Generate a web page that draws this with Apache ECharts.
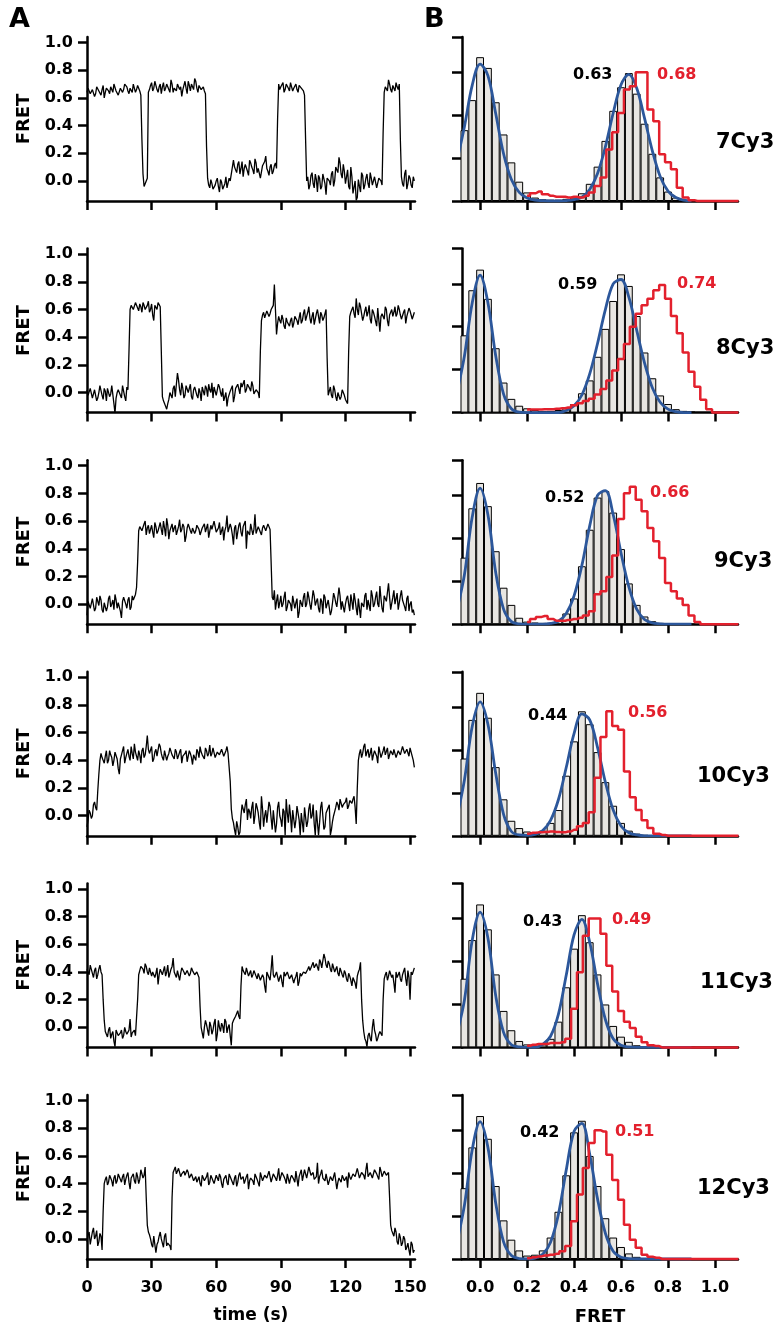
<!DOCTYPE html>
<html>
<head>
<meta charset="utf-8">
<script src="https://cdn.jsdelivr.net/npm/echarts@6/dist/echarts.min.js"></script>
<style>html,body{margin:0;padding:0;background:#fff}#c{width:780px;height:1331px}</style>
</head>
<body>
<div id="c"></div>
<script>
// ---------- DATA ----------
const rowNames = ['7Cy3', '8Cy3', '9Cy3', '10Cy3', '11Cy3', '12Cy3'];
const peakLabels = ['0.63', '0.59', '0.52', '0.44', '0.43', '0.42'];
const shiftLabels = ['0.68', '0.74', '0.66', '0.56', '0.49', '0.51'];
const timeTicks = [0, 30, 60, 90, 120, 150];
const fretTicksTrace = [0, 0.2, 0.4, 0.6, 0.8, 1.0];
const fretTicksHist = [0, 0.2, 0.4, 0.6, 0.8, 1.0];

// FRET traces: values at whole seconds (t = 0..152 s) ...
const trace7 = [0.64,0.66,0.62,0.65,0.63,0.67,0.64,0.66,0.6,0.67,0.65,0.68,0.64,0.69,0.66,0.63,0.68,0.66,0.71,0.65,0.67,0.64,0.69,0.66,0.67,0.62,
0.05,-0.03,0.02,
0.66,0.71,0.67,0.69,0.64,0.7,0.68,0.65,0.7,0.66,0.73,0.64,0.68,0.7,0.66,0.61,0.69,0.67,0.72,0.65,0.68,0.74,0.67,0.69,0.66,0.68,0.63,
0.02,-0.05,-0.02,-0.07,0.0,-0.04,0.01,-0.06,-0.02,-0.05,0.02,-0.01,
0.15,0.08,0.12,0.05,0.14,0.09,0.11,0.04,0.13,0.08,0.16,0.06,0.1,0.03,0.12,0.18,0.07,0.1,0.05,0.11,0.09,
0.7,0.68,0.71,0.66,0.69,0.65,0.68,0.67,0.7,0.64,0.68,0.66,0.62,
0.0,-0.06,0.04,-0.02,0.05,-0.08,0.02,-0.04,0.06,-0.1,0.03,-0.03,0.07,0.0,0.09,0.17,0.05,0.12,-0.02,0.08,-0.06,0.03,-0.1,-0.14,0.01,-0.08,0.04,-0.03,0.05,-0.05,0.02,-0.02,0.04,-0.04,0.01,-0.03,
0.64,0.67,0.73,0.66,0.69,0.65,0.68,0.7,
0.03,-0.04,0.08,-0.02,0.02,-0.05,0.0];
const trace8 = [0.02,-0.03,0.04,-0.05,0.01,-0.04,0.05,-0.02,0.03,-0.06,0.02,-0.01,0.04,-0.15,0.0,0.03,-0.04,0.06,-0.06,0.02,
0.6,0.64,0.61,0.63,0.59,0.62,0.65,0.6,0.63,0.58,0.64,0.52,0.62,0.65,0.62,
-0.03,-0.08,-0.12,-0.05,-0.02,0.03,-0.03,0.14,0.02,0.07,-0.04,0.05,0.0,0.06,-0.05,0.04,-0.02,0.03,-0.06,0.01,0.05,-0.03,0.02,0.07,0.04,-0.02,0.06,0.0,0.03,-0.05,-0.1,-0.03,0.02,-0.07,0.03,0.06,-0.01,0.04,0.09,0.02,0.07,0.01,0.05,-0.02,0.03,-0.04,
0.52,0.58,0.55,0.6,0.57,0.61,0.78,
0.42,0.55,0.5,0.53,0.46,0.51,0.48,0.54,0.5,0.56,0.49,0.58,0.52,0.6,0.55,0.62,0.5,0.58,0.53,0.6,0.5,0.56,0.54,0.6,
-0.02,0.04,-0.04,0.02,-0.06,0.01,-0.03,0.03,-0.05,-0.08,
0.55,0.6,0.57,0.68,0.56,0.62,0.52,0.59,0.55,0.63,0.5,0.58,0.56,0.61,0.44,0.57,0.53,0.6,0.48,0.58,0.55,0.62,0.57,0.6,0.53,0.58,0.5,0.56,0.59,0.53,0.58];
const trace9 = [-0.08,0.03,-0.02,0.05,-0.03,0.02,0.06,-0.04,0.01,-0.05,0.04,-0.02,0.03,0.07,-0.03,0.02,-0.1,0.05,0.0,0.03,-0.04,0.06,0.02,0.12,
0.53,0.57,0.52,0.6,0.55,0.51,0.57,0.48,0.56,0.53,0.59,0.5,0.55,0.62,0.47,0.54,0.52,0.57,0.5,0.61,0.54,0.56,0.49,0.58,0.53,0.55,0.51,0.57,0.54,0.5,0.56,0.52,0.58,0.47,0.54,0.6,0.52,0.55,0.5,0.56,0.53,0.64,0.51,0.55,0.43,0.57,0.52,0.59,0.49,0.55,0.4,0.53,0.58,0.5,0.65,0.52,0.56,0.5,0.57,0.53,0.58,0.54,
0.05,0.1,0.02,-0.03,0.06,0.0,0.09,-0.02,0.04,-0.05,0.07,0.01,-0.1,0.03,-0.02,0.08,0.0,0.05,-0.04,0.1,-0.01,0.04,-0.06,0.02,0.07,-0.03,0.03,-0.08,0.01,0.05,-0.02,0.12,-0.04,0.03,0.0,0.06,-0.05,0.02,0.08,-0.03,0.04,-0.1,0.02,0.06,-0.04,0.03,0.1,-0.02,0.05,0.0,0.13,-0.03,0.06,0.02,0.15,-0.04,0.05,0.0,0.08,-0.03,0.1,0.02,-0.05,0.06,0.0,-0.06,-0.08];
const trace10 = [-0.08,0.04,-0.02,0.08,0.06,0.18,
0.4,
0.42,0.38,0.47,0.4,0.44,0.36,0.46,0.41,0.3,0.44,0.5,0.42,0.48,0.4,0.45,0.52,0.43,0.47,0.38,0.49,0.44,0.58,0.45,0.5,0.41,0.48,0.44,0.5,0.42,0.47,0.4,0.45,0.5,0.43,0.48,0.41,0.46,0.38,0.44,0.47,0.4,0.45,0.37,0.43,0.48,0.42,0.46,0.44,0.49,0.43,0.51,0.45,0.48,0.42,0.47,0.44,0.49,0.45,0.5,0.46,
0.05,-0.05,-0.14,-0.08,-0.12,0.08,0.02,0.12,0.05,-0.02,0.1,0.0,0.06,-0.05,0.14,-0.08,0.04,-0.04,0.07,-0.1,0.03,-0.06,0.1,-0.03,0.05,-0.14,0.02,0.08,-0.12,0.04,-0.03,0.07,-0.14,0.01,0.06,-0.08,0.05,-0.02,0.08,-0.14,0.03,-0.05,0.1,-0.1,0.02,0.06,-0.14,-0.04,0.03,0.1,0.04,0.12,0.08,0.1,0.05,0.11,0.09,0.14,-0.06,
0.4,0.48,0.45,0.52,0.46,0.42,0.49,0.44,0.48,0.38,0.46,0.43,0.5,0.45,0.41,0.47,0.44,0.49,0.43,0.48,0.45,0.5,0.44,0.47,0.49,0.45,0.35];
const trace11 = [0.42,0.38,0.44,0.36,0.43,0.38,0.45,0.38,
0.05,-0.05,-0.02,-0.08,-0.03,-0.14,-0.04,-0.07,-0.02,-0.06,-0.03,-0.05,0.06,-0.04,-0.02,-0.05,
0.38,0.44,0.42,0.46,0.4,0.43,0.37,0.41,0.39,0.31,0.42,0.38,0.44,0.4,0.36,0.42,0.5,0.38,0.41,0.34,0.43,0.4,0.37,0.42,0.39,0.41,0.38,0.4,0.36,
0.0,-0.08,0.05,-0.02,0.04,-0.05,0.03,-0.1,0.05,-0.03,0.01,0.06,-0.04,0.02,-0.13,0.05,0.08,0.12,0.06,
0.44,0.4,0.43,0.37,0.41,0.38,0.4,0.35,0.38,0.33,0.36,0.25,0.39,0.34,0.52,0.36,0.4,0.33,0.38,0.29,0.37,0.4,0.35,0.38,0.32,0.37,0.3,0.39,0.36,0.41,0.38,0.44,0.4,0.47,0.42,0.45,0.49,0.43,0.53,0.45,0.48,0.42,0.46,0.4,0.44,0.37,0.42,0.36,0.39,0.33,0.37,0.3,0.35,0.28,0.4,0.47,
0.05,-0.08,-0.14,-0.04,-0.1,0.06,-0.05,-0.08,-0.03,-0.06,
0.35,0.4,0.37,0.42,0.38,0.25,0.36,0.4,0.33,0.39,0.35,0.41,0.2,0.38,0.43];
const trace12 = [-0.02,0.05,-0.03,0.08,0.02,-0.05,0.04,-0.08,
0.4,0.45,0.41,0.44,0.38,0.46,0.42,0.45,0.41,0.47,0.43,0.48,0.36,0.45,0.42,0.48,0.4,0.5,0.44,0.52,
0.1,0.03,-0.04,0.02,-0.1,-0.02,0.05,-0.03,0.02,-0.05,-0.02,-0.08,
0.48,0.52,0.46,0.5,0.47,0.49,0.45,0.48,0.44,0.46,0.43,0.41,0.45,0.38,0.44,0.42,0.48,0.41,0.44,0.4,0.46,0.42,0.45,0.37,0.44,0.41,0.47,0.43,0.39,0.46,0.41,0.48,0.44,0.4,0.45,0.36,0.44,0.42,0.47,0.43,0.38,0.45,0.41,0.46,0.43,0.5,0.44,0.47,0.42,0.51,0.45,0.49,0.43,0.47,0.4,0.46,0.43,0.49,0.38,0.45,0.42,0.5,0.44,0.52,0.46,0.48,0.42,0.55,0.45,0.5,0.43,0.47,0.39,0.45,0.42,0.48,0.36,0.44,0.41,0.46,0.43,0.37,0.45,0.42,0.47,0.44,0.5,0.45,0.48,0.43,0.55,0.46,0.49,0.44,0.5,0.47,0.52,0.45,0.49,0.46,0.48,
0.1,0.05,0.08,-0.02,0.04,-0.05,0.02,-0.08,-0.03,-0.12,-0.04,-0.08];

// ... and at half seconds (t = 0.5..151.5 s)
const trace7h = [0.67,0.63,0.66,0.61,0.68,0.65,0.62,0.69,0.64,0.66,0.63,0.67,0.7,0.65,0.62,0.67,0.64,0.7,0.68,0.63,0.66,0.7,0.64,0.69,0.65,
0.3,-0.04,0.0,0.64,
0.69,0.65,0.72,0.66,0.68,0.63,0.71,0.67,0.69,0.64,0.7,0.67,0.65,0.71,0.68,0.66,0.72,0.63,0.69,0.7,0.66,0.72,0.64,0.7,0.67,0.65,
0.25,-0.03,0.01,-0.06,-0.03,0.02,-0.08,-0.01,-0.04,0.03,-0.06,0.0,
0.1,0.1,0.06,0.14,0.09,0.03,0.12,0.07,0.15,0.1,0.05,0.13,0.09,0.02,0.11,0.14,0.09,0.04,0.12,0.07,0.13,
0.45,0.66,0.69,0.64,0.7,0.67,0.71,0.65,0.68,0.66,0.69,0.67,0.65,
0.3,0.03,-0.03,0.06,-0.05,0.01,0.04,-0.06,0.05,-0.02,0.02,0.0,0.05,-0.04,0.1,0.06,0.13,0.02,0.07,0.03,-0.04,0.1,-0.09,0.0,-0.12,-0.04,0.06,-0.06,0.02,-0.02,0.06,-0.03,0.03,-0.05,0.02,0.0,
0.35,0.68,0.65,0.7,0.64,0.67,0.71,0.66,
0.3,-0.02,0.05,-0.06,0.04,-0.03,0.03];
const trace8h = [-0.02,0.03,-0.04,0.02,-0.06,0.0,0.04,-0.05,0.01,0.03,-0.03,0.05,-0.08,-0.04,0.02,-0.02,0.05,-0.03,0.04,
0.3,0.63,0.6,0.65,0.61,0.64,0.58,0.63,0.61,0.66,0.6,0.56,0.63,0.6,0.64,
0.3,-0.06,-0.1,-0.08,0.0,-0.04,0.05,0.06,0.09,-0.02,0.03,-0.02,0.04,0.01,-0.03,0.02,0.05,-0.04,0.0,0.04,-0.02,0.03,0.06,0.0,-0.04,0.05,0.02,0.04,-0.03,-0.06,0.0,-0.04,0.01,0.05,-0.03,0.02,0.05,0.07,0.04,0.0,0.06,0.03,0.08,-0.01,0.02,0.0,
0.3,0.56,0.54,0.59,0.55,0.6,0.63,
0.6,0.5,0.52,0.56,0.48,0.54,0.5,0.52,0.47,0.55,0.52,0.54,0.5,0.57,0.52,0.58,0.54,0.55,0.49,0.57,0.55,0.58,0.52,0.57,
0.25,0.01,-0.02,0.05,-0.03,0.0,-0.05,0.02,-0.02,-0.06,
0.3,0.58,0.62,0.54,0.6,0.65,0.57,0.55,0.62,0.58,0.53,0.6,0.55,0.48,0.6,0.55,0.58,0.62,0.52,0.56,0.6,0.58,0.55,0.63,0.56,0.52,0.6,0.55,0.61,0.56,0.54];
const trace9h = [0.02,-0.03,0.04,-0.05,0.05,-0.01,0.03,-0.06,0.02,-0.02,0.06,0.0,-0.04,0.03,0.01,-0.05,0.02,0.04,-0.03,0.05,-0.02,0.03,0.07,
0.3,
0.56,0.53,0.58,0.5,0.57,0.54,0.52,0.59,0.51,0.56,0.54,0.6,0.49,0.57,0.53,0.58,0.55,0.5,0.56,0.52,0.58,0.45,0.55,0.59,0.51,0.56,0.53,0.57,0.5,0.55,0.58,0.53,0.48,0.57,0.54,0.56,0.51,0.59,0.53,0.46,0.56,0.52,0.58,0.5,0.55,0.47,0.57,0.52,0.56,0.6,0.53,0.5,0.58,0.54,0.51,0.56,0.52,0.55,0.57,0.52,0.56,
0.3,
0.03,-0.04,0.07,0.01,-0.02,0.05,-0.05,0.03,0.0,0.06,-0.03,0.04,-0.06,0.02,0.05,-0.02,0.09,0.0,-0.04,0.06,0.02,-0.03,0.04,-0.07,0.05,0.0,0.03,-0.05,0.08,0.01,-0.03,0.06,0.02,-0.06,0.04,0.0,0.07,-0.04,0.03,-0.08,0.05,0.01,-0.02,0.08,0.03,-0.05,0.06,0.0,0.09,-0.02,0.04,-0.06,0.07,0.02,0.05,-0.03,0.1,0.01,-0.04,0.06,0.03,-0.02,0.04,-0.05,0.02,-0.04];
const trace10h = [-0.03,0.02,0.0,0.1,0.04,
0.3,
0.45,0.4,0.43,0.38,0.47,0.42,0.4,0.45,0.34,0.41,0.47,0.38,0.45,0.43,0.5,0.41,0.46,0.4,0.44,0.47,0.42,0.5,0.48,0.44,0.39,0.46,0.43,0.52,0.45,0.4,0.47,0.43,0.49,0.44,0.41,0.46,0.4,0.48,0.43,0.45,0.39,0.47,0.42,0.44,0.4,0.46,0.5,0.44,0.41,0.47,0.45,0.43,0.49,0.42,0.46,0.44,0.48,0.43,0.47,0.45,
0.25,
-0.02,-0.1,-0.04,-0.14,0.0,0.05,0.08,-0.03,0.03,0.06,-0.06,0.09,0.02,-0.1,0.05,0.0,-0.05,0.1,-0.02,0.04,-0.12,0.06,0.0,-0.08,0.03,0.12,-0.05,0.0,0.04,-0.09,0.07,-0.03,0.02,-0.12,0.05,-0.04,0.09,0.0,-0.06,0.04,-0.14,0.06,0.0,-0.08,0.04,0.08,-0.1,0.0,0.06,0.08,0.12,0.06,0.09,0.13,0.07,0.1,0.12,0.06,
0.2,
0.45,0.42,0.5,0.43,0.48,0.45,0.4,0.47,0.43,0.5,0.42,0.47,0.44,0.49,0.41,0.46,0.48,0.42,0.47,0.44,0.5,0.45,0.48,0.43,0.46,0.4];
const trace11h = [0.4,0.45,0.39,0.41,0.35,0.42,0.4,
0.2,
-0.03,-0.07,0.0,-0.05,-0.1,-0.02,-0.06,-0.04,-0.08,0.0,-0.05,-0.02,-0.07,-0.03,-0.06,
0.2,
0.41,0.43,0.39,0.44,0.38,0.42,0.4,0.36,0.43,0.38,0.4,0.41,0.37,0.45,0.39,0.44,0.4,0.36,0.42,0.39,0.44,0.38,0.41,0.37,0.43,0.4,0.37,0.39,
0.15,
-0.04,0.0,0.02,-0.06,0.01,-0.02,0.06,-0.05,0.0,0.03,-0.04,0.04,0.0,-0.06,0.03,0.06,0.1,0.08,
0.3,
0.41,0.38,0.42,0.39,0.36,0.41,0.37,0.39,0.34,0.38,0.3,0.4,0.36,0.42,0.38,0.35,0.39,0.36,0.33,0.4,0.37,0.41,0.34,0.39,0.35,0.4,0.33,0.37,0.4,0.39,0.42,0.41,0.45,0.43,0.46,0.41,0.47,0.44,0.5,0.43,0.46,0.4,0.45,0.42,0.39,0.43,0.38,0.41,0.35,0.39,0.34,0.36,0.32,0.37,0.42,
0.2,
-0.03,-0.1,-0.06,-0.08,0.0,-0.02,-0.1,-0.05,-0.02,
0.2,
0.38,0.34,0.41,0.36,0.32,0.4,0.37,0.35,0.38,0.43,0.3,0.36,0.4,0.38];
const trace12h = [0.03,-0.04,0.05,0.0,0.06,-0.02,0.02,
0.2,
0.43,0.39,0.46,0.42,0.44,0.4,0.47,0.43,0.45,0.39,0.46,0.41,0.44,0.47,0.4,0.45,0.43,0.49,0.46,
0.3,
0.05,0.0,-0.06,0.03,-0.04,0.02,0.0,-0.06,0.04,-0.03,-0.05,
0.3,
0.5,0.47,0.51,0.45,0.48,0.46,0.5,0.44,0.47,0.42,0.45,0.43,0.4,0.46,0.42,0.45,0.39,0.46,0.43,0.41,0.44,0.47,0.4,0.43,0.46,0.39,0.45,0.42,0.44,0.38,0.46,0.43,0.45,0.41,0.47,0.42,0.44,0.39,0.46,0.43,0.48,0.42,0.46,0.44,0.49,0.41,0.47,0.44,0.46,0.42,0.48,0.45,0.4,0.47,0.44,0.46,0.41,0.48,0.45,0.5,0.43,0.47,0.44,0.51,0.46,0.43,0.45,0.4,0.47,0.44,0.42,0.46,0.4,0.45,0.43,0.47,0.41,0.44,0.46,0.42,0.45,0.48,0.43,0.47,0.45,0.51,0.44,0.48,0.46,0.5,0.45,0.48,0.44,0.5,0.47,0.43,0.49,0.46,0.5,0.45,
0.3,
0.06,0.02,0.05,-0.04,0.01,-0.03,0.0,-0.06,-0.08,-0.02,-0.1];

// Histogram bar heights (bins of 1/30 FRET, centres k/30 for k = -2..27)
const hist7  = [1.65,2.35,3.35,3.1,2.3,1.55,0.9,0.45,0.2,0.08,0.04,0.03,0.03,0.05,0.08,0.18,0.4,0.8,1.4,2.1,2.65,2.98,2.5,1.8,1.1,0.55,0.22,0.08,0.03,0.01];
const hist8  = [1.8,2.85,3.33,2.65,1.5,0.7,0.32,0.16,0.1,0.06,0.03,0.04,0.06,0.1,0.2,0.45,0.75,1.3,1.95,2.6,3.22,2.95,2.25,1.4,0.8,0.4,0.2,0.08,0.04,0.02];
const hist9  = [1.55,2.7,3.29,2.75,1.7,0.85,0.45,0.15,0.06,0.04,0.03,0.03,0.08,0.25,0.6,1.35,2.2,2.95,3.1,2.6,1.75,0.95,0.45,0.18,0.07,0.03,0.02,0.01,0,0];
const hist10 = [1.8,2.7,3.33,2.75,1.6,0.85,0.35,0.18,0.1,0.06,0.12,0.3,0.6,1.4,2.2,2.9,2.6,1.95,1.25,0.7,0.3,0.12,0.05,0.02,0,0,0,0,0,0];
const hist11 = [1.6,2.5,3.33,2.75,1.7,0.85,0.4,0.15,0.07,0.03,0.07,0.2,0.6,1.4,2.3,3.08,2.45,1.7,1.0,0.5,0.25,0.13,0.05,0.02,0,0,0,0,0,0];
const hist12 = [1.65,2.6,3.33,2.8,1.7,0.9,0.45,0.2,0.08,0.1,0.2,0.5,1.1,1.95,2.95,3.22,2.4,1.7,0.95,0.5,0.28,0.13,0.05,0.02,0,0,0,0,0,0];

// Gaussian fit curves (blue), read at k/30 for k = -3..27
const fit7  = [0.9,1.73,2.7,3.19,2.92,2.03,1.1,0.5,0.2,0.07,0.02,0.01,0,0,0.01,0.03,0.09,0.27,0.64,1.26,2.05,2.71,2.95,2.63,1.93,1.17,0.57,0.23,0.08,0.02,0];
const fit8  = [0.43,1.32,2.56,3.2,2.56,1.32,0.43,0.09,0.01,0,0,0,0,0,0.05,0.16,0.41,0.9,1.61,2.4,3.0,3.1,2.69,1.92,1.16,0.58,0.24,0.08,0.02,0,0];
const fit9  = [0.3,1.15,2.5,3.17,2.55,1.2,0.35,0.06,0.01,0,0,0,0.02,0.07,0.25,0.66,1.37,2.29,3.0,3.11,2.55,1.66,0.87,0.35,0.11,0.03,0.01,0,0,0,0];
const fit10 = [0.4,1.3,2.55,3.12,2.6,1.45,0.5,0.1,0.02,0.01,0.03,0.12,0.36,0.84,1.59,2.38,2.84,2.7,2.06,1.25,0.6,0.23,0.07,0.02,0,0,0,0,0,0,0];
const fit11 = [0.3,1.1,2.5,3.15,2.55,1.2,0.35,0.06,0.01,0,0,0.07,0.26,0.77,1.68,2.62,2.98,2.45,1.48,0.65,0.2,0.05,0.01,0,0,0,0,0,0,0,0];
const fit12 = [0.35,1.25,2.55,3.2,2.6,1.3,0.4,0.08,0.01,0,0.02,0.11,0.39,1.04,2.07,2.97,3.16,2.44,1.4,0.6,0.18,0.04,0.01,0,0,0,0,0,0,0,0];

// Red histograms (outline), bins of 0.025 FRET, centres 0.2..1.1
const red7  = [0.12,0.18,0.22,0.16,0.12,0.1,0.1,0.08,0.1,0.08,0.12,0.2,0.35,0.55,1.2,1.6,2.05,2.6,2.67,3.0,3.0,2.13,1.86,1.09,0.9,0.74,0.31,0.08,0.02,0,0,0,0,0,0,0,0];
const red8  = [0.07,0.07,0.07,0.08,0.08,0.09,0.1,0.12,0.17,0.22,0.27,0.32,0.42,0.55,0.75,0.98,1.25,1.6,2.0,2.3,2.5,2.65,2.85,2.97,2.65,2.25,1.85,1.4,0.95,0.6,0.3,0.08,0,0,0,0,0];
const red9  = [0.05,0.12,0.17,0.19,0.12,0.08,0.08,0.1,0.12,0.15,0.2,0.3,0.7,0.77,1.1,1.6,2.45,3.05,3.2,2.9,2.63,2.24,1.93,1.54,0.96,0.77,0.6,0.45,0.2,0.05,0,0,0,0,0,0,0];
const red10 = [0.05,0.07,0.08,0.09,0.1,0.09,0.08,0.1,0.14,0.22,0.3,0.55,1.35,2.3,2.9,2.56,2.47,1.5,0.9,0.6,0.36,0.18,0.05,0.02,0,0,0,0,0,0,0,0,0,0,0,0,0];
const red11 = [0.04,0.06,0.08,0.08,0.1,0.1,0.12,0.2,0.9,1.75,2.6,3.0,3.0,2.65,1.9,1.3,0.85,0.6,0.45,0.25,0.12,0.05,0.03,0,0,0,0,0,0,0,0,0,0,0,0,0,0];
const red12 = [0.02,0.04,0.06,0.08,0.1,0.12,0.18,0.3,0.88,1.5,2.12,2.7,3.0,2.97,2.43,1.84,1.38,0.8,0.45,0.26,0.1,0.05,0.03,0,0,0,0,0,0,0,0,0,0,0,0,0,0];

// ---------- BUILD ----------
const traces = [trace7, trace8, trace9, trace10, trace11, trace12];
const tracesHalf = [trace7h, trace8h, trace9h, trace10h, trace11h, trace12h];
const hists = [hist7, hist8, hist9, hist10, hist11, hist12];
const fits = [fit7, fit8, fit9, fit10, fit11, fit12];
const reds = [red7, red8, red9, red10, red11, red12];

const histX = []; for (let k = -2; k <= 27; k++) histX.push(k / 30);
const fitX = []; for (let k = -3; k <= 27; k++) fitX.push(k / 30);
const redX = []; for (let j = 0; j <= 36; j++) redX.push(0.2 + 0.025 * j);

function traceData(full, half) {
  const out = [];
  for (let i = 0; i < full.length; i++) {
    out.push([i, full[i]]);
    if (i < half.length) out.push([i + 0.5, half[i]]);
  }
  return out;
}

const FONT = 'DejaVu Sans';
const BLACK = '#000';
const RED = '#e3202d';
const BLUE = '#2c579b';

const rowBottom = [201, 412.6, 624.2, 835.8, 1047.4, 1259];
const PH = 164;
const L = { left: 87, width: 328 };
const R = { left: 462, width: 276 };
const histMin = -0.077, histMax = 1.098;

const grids = [], xAxes = [], yAxes = [], series = [];
const axisLineStyle = { color: BLACK, width: 2.5 };
const labelStyle = { fontFamily: FONT, fontWeight: 'bold', fontSize: 16, color: BLACK };

rowNames.forEach((name, r) => {
  const top = rowBottom[r] - PH;
  const last = r === rowNames.length - 1;
  grids.push({ left: L.left, width: L.width, top: top, height: PH });
  grids.push({ left: R.left, width: R.width, top: top, height: PH });
  const gl = 2 * r, gr = 2 * r + 1;

  xAxes.push({
    type: 'value', gridIndex: gl, min: 0, max: 152.3, interval: 30,
    axisLine: { show: true, onZero: false, lineStyle: axisLineStyle },
    axisTick: { show: true, length: 9, lineStyle: { width: 2.5, color: BLACK }, customValues: timeTicks },
    axisLabel: Object.assign({ show: last, margin: 21, customValues: timeTicks }, labelStyle),
    splitLine: { show: false },
    name: last ? 'time (s)' : '', nameLocation: 'middle', nameGap: 48,
    nameTextStyle: { fontFamily: FONT, fontWeight: 'bold', fontSize: 17, color: BLACK }
  });
  yAxes.push({
    type: 'value', gridIndex: gl, min: -0.145, max: 1.04,
    axisLine: { show: true, onZero: false, lineStyle: axisLineStyle },
    axisTick: { show: true, length: 9, lineStyle: { width: 2.5, color: BLACK }, customValues: fretTicksTrace },
    axisLabel: Object.assign({ show: true, margin: 14, customValues: fretTicksTrace, formatter: v => Number(v).toFixed(1) }, labelStyle),
    splitLine: { show: false },
    name: 'FRET', nameLocation: 'middle', nameGap: 54, nameRotate: 90,
    nameTextStyle: { fontFamily: FONT, fontWeight: 'bold', fontSize: 18, color: BLACK }
  });
  xAxes.push({
    type: 'value', gridIndex: gr, min: histMin, max: histMax,
    axisLine: { show: true, onZero: false, lineStyle: axisLineStyle },
    axisTick: { show: true, length: 9, lineStyle: { width: 2.5, color: BLACK }, customValues: fretTicksHist },
    axisLabel: Object.assign({ show: last, margin: 21, customValues: fretTicksHist, formatter: v => Number(v).toFixed(1) }, labelStyle),
    splitLine: { show: false },
    name: last ? 'FRET' : '', nameLocation: 'middle', nameGap: 49,
    nameTextStyle: { fontFamily: FONT, fontWeight: 'bold', fontSize: 18, color: BLACK }
  });
  yAxes.push({
    type: 'value', gridIndex: gr, min: 0, max: 3.82, interval: 1,
    axisLine: { show: true, onZero: false, lineStyle: axisLineStyle },
    axisTick: { show: true, length: 10, lineStyle: { width: 2.5, color: BLACK } },
    axisLabel: { show: false },
    splitLine: { show: false }
  });

  series.push({
    type: 'line', xAxisIndex: gl, yAxisIndex: gl, showSymbol: false, clip: true,
    data: traceData(traces[r], tracesHalf[r]),
    lineStyle: { color: BLACK, width: 1.3 }
  });
  const bw = R.width / (histMax - histMin) / 30;
  series.push({
    type: 'bar', xAxisIndex: gr, yAxisIndex: gr, barWidth: bw, clip: true,
    data: histX.map((x, i) => [x, hists[r][i]]),
    itemStyle: { color: '#e8e6e2', borderColor: BLACK, borderWidth: 1 }
  });
  series.push({
    type: 'line', xAxisIndex: gr, yAxisIndex: gr, showSymbol: false, clip: true,
    smooth: 0.35,
    data: fitX.map((x, i) => [x, fits[r][i]]),
    lineStyle: { color: BLUE, width: 2.8 }, z: 3
  });
  series.push({
    type: 'line', xAxisIndex: gr, yAxisIndex: gr, showSymbol: false, clip: false,
    step: 'middle',
    data: redX.map((x, i) => [x, reds[r][i]]),
    lineStyle: { color: RED, width: 2.5 }, z: 4
  });
});

// annotation positions (left x, middle y)
const peakPos = [[573, 75], [558, 285], [545, 498], [528, 716], [523, 922], [520, 1133]];
const shiftPos = [[657, 75], [677, 284], [650, 493], [628, 713], [612, 920], [615, 1132]];
const namePos = [[716, 143], [716, 349], [714, 562], [697, 777], [700, 983], [697, 1189]];

const graphic = [
  { type: 'text', x: 9, y: 20, style: { text: 'A', fill: BLACK, font: 'bold 27px ' + FONT, verticalAlign: 'middle' } },
  { type: 'text', x: 424, y: 20, style: { text: 'B', fill: BLACK, font: 'bold 27px ' + FONT, verticalAlign: 'middle' } }
];
rowNames.forEach((name, r) => {
  graphic.push({ type: 'text', x: peakPos[r][0], y: peakPos[r][1], style: { text: peakLabels[r], fill: BLACK, font: 'bold 16px ' + FONT, verticalAlign: 'middle' } });
  graphic.push({ type: 'text', x: shiftPos[r][0], y: shiftPos[r][1], style: { text: shiftLabels[r], fill: RED, font: 'bold 16px ' + FONT, verticalAlign: 'middle' } });
  graphic.push({ type: 'text', x: namePos[r][0], y: namePos[r][1], style: { text: name, fill: BLACK, font: 'bold 21px ' + FONT, verticalAlign: 'middle' } });
});

const chart = echarts.init(document.getElementById('c'), null, { renderer: 'canvas' });
chart.setOption({
  animation: false,
  backgroundColor: '#fff',
  grid: grids, xAxis: xAxes, yAxis: yAxes, series: series, graphic: graphic
});
</script>
</body>
</html>
